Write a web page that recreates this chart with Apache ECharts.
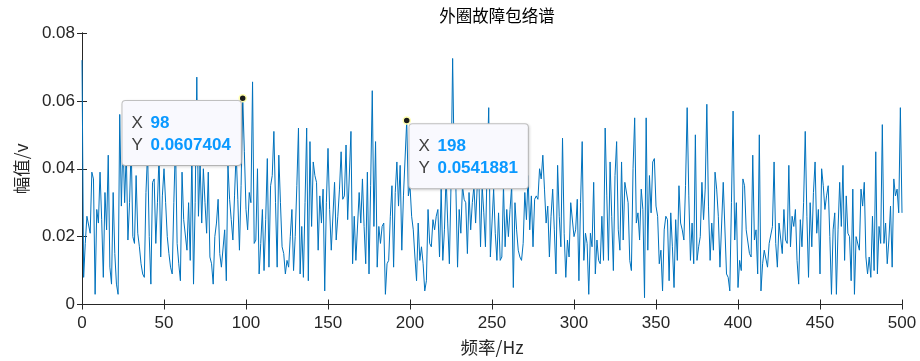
<!DOCTYPE html>
<html>
<head>
<meta charset="utf-8">
<script src="https://cdn.jsdelivr.net/npm/echarts@6/dist/echarts.min.js"></script>
<style>
html,body{margin:0;padding:0;background:#fff;}
#chart{width:920px;height:361px;}
</style>
</head>
<body>
<div id="chart"></div>
<script>
// Envelope spectrum amplitudes, 0..500 Hz at 1 Hz steps
const amplitude = [
0.072,0.008,0.018,0.026,0.026,0.021,0.039,0.037,0.003,0.028,
0.024,0.039,0.025,0.008,0.033,0.022,0.044,0.011,0.006,0.033,
0.015,0.006,0.003,0.056,0.029,0.049,0.030,0.045,0.019,0.030,
0.047,0.020,0.018,0.038,0.021,0.017,0.012,0.009,0.008,0.033,
0.045,0.020,0.006,0.036,0.037,0.018,0.030,0.044,0.014,0.032,
0.040,0.030,0.020,0.015,0.011,0.009,0.030,0.048,0.018,0.012,
0.007,0.039,0.025,0.025,0.016,0.030,0.013,0.045,0.006,0.030,
0.067,0.026,0.042,0.024,0.040,0.030,0.021,0.039,0.014,0.012,
0.006,0.020,0.024,0.031,0.015,0.011,0.011,0.022,0.007,0.041,
0.031,0.025,0.019,0.032,0.045,0.031,0.016,0.035,0.0607404,0.045,
0.028,0.022,0.033,0.030,0.0656,0.018,0.019,0.040,0.009,0.018,
0.028,0.010,0.025,0.043,0.011,0.035,0.038,0.051,0.030,0.011,
0.044,0.030,0.017,0.015,0.009,0.013,0.011,0.020,0.028,0.010,
0.020,0.035,0.052,0.009,0.023,0.008,0.030,0.052,0.007,0.048,
0.023,0.042,0.038,0.036,0.016,0.032,0.024,0.034,0.004,0.030,
0.046,0.028,0.016,0.016,0.036,0.019,0.026,0.034,0.045,0.031,
0.032,0.047,0.025,0.025,0.051,0.012,0.026,0.013,0.013,0.033,
0.024,0.037,0.023,0.012,0.039,0.009,0.035,0.063,0.023,0.048,
0.011,0.023,0.018,0.023,0.024,0.003,0.012,0.013,0.026,0.035,
0.011,0.033,0.042,0.029,0.041,0.016,0.032,0.032,0.0541881,0.032,
0.035,0.026,0.022,0.014,0.007,0.024,0.013,0.017,0.012,0.004,
0.007,0.028,0.018,0.017,0.025,0.022,0.026,0.028,0.014,0.034,
0.013,0.022,0.038,0.024,0.012,0.035,0.0725,0.040,0.034,0.011,
0.028,0.021,0.035,0.031,0.030,0.015,0.033,0.022,0.030,0.035,
0.024,0.035,0.037,0.017,0.035,0.027,0.017,0.040,0.058,0.014,
0.014,0.034,0.021,0.013,0.027,0.013,0.014,0.035,0.017,0.028,
0.020,0.028,0.035,0.005,0.030,0.022,0.016,0.014,0.013,0.018,
0.033,0.025,0.038,0.022,0.032,0.017,0.031,0.032,0.031,0.040,
0.037,0.044,0.034,0.024,0.029,0.014,0.026,0.034,0.022,0.009,
0.041,0.026,0.017,0.049,0.021,0.008,0.019,0.014,0.030,0.030,
0.020,0.022,0.031,0.007,0.030,0.048,0.013,0.021,0.018,0.003,
0.021,0.017,0.036,0.009,0.019,0.013,0.012,0.026,0.013,0.052,
0.032,0.013,0.042,0.026,0.010,0.038,0.048,0.022,0.016,0.042,
0.019,0.036,0.036,0.030,0.013,0.010,0.040,0.055,0.024,0.027,
0.019,0.034,0.028,0.002,0.055,0.016,0.038,0.027,0.042,0.043,
0.029,0.026,0.012,0.016,0.004,0.022,0.026,0.025,0.007,0.027,
0.017,0.005,0.025,0.013,0.035,0.024,0.022,0.019,0.035,0.058,
0.032,0.013,0.024,0.012,0.050,0.013,0.017,0.020,0.036,0.025,
0.034,0.059,0.029,0.013,0.024,0.016,0.039,0.034,0.026,0.011,
0.011,0.036,0.036,0.009,0.008,0.004,0.030,0.057,0.019,0.030,
0.005,0.013,0.010,0.037,0.035,0.022,0.022,0.015,0.014,0.044,
0.019,0.022,0.009,0.050,0.004,0.012,0.016,0.016,0.011,0.018,
0.018,0.023,0.042,0.018,0.011,0.024,0.024,0.015,0.028,0.019,
0.018,0.041,0.017,0.026,0.023,0.028,0.013,0.006,0.025,0.017,
0.030,0.051,0.026,0.008,0.030,0.017,0.033,0.042,0.021,0.028,
0.009,0.040,0.035,0.028,0.032,0.035,0.020,0.003,0.022,0.027,
0.003,0.022,0.036,0.023,0.041,0.013,0.032,0.021,0.020,0.007,
0.034,0.003,0.020,0.020,0.016,0.034,0.029,0.036,0.014,0.009,
0.014,0.008,0.026,0.010,0.045,0.009,0.023,0.018,0.053,0.018,
0.024,0.012,0.019,0.029,0.011,0.037,0.032,0.034,0.027,0.058,
0.027
];
const freqStart = 0;      // Hz
const freqStep = 1;       // Hz
const xTicks = [0,50,100,150,200,250,300,350,400,450,500];
const yTicks = ['0','0.02','0.04','0.06','0.08'];
const tipFreqs = [98, 198];
const tipLabels = ['0.0607404', '0.0541881'];

const seriesData = amplitude.map((v, i) => [freqStart + i * freqStep, v]);

const FONT = '"Liberation Sans", Arial, Helvetica, sans-serif';
const CJK = '"Noto Sans CJK SC", "Liberation Sans", sans-serif';
const TXT = '#262626';

const tipOffsets = [[-116, 7], [7, 8]];
const markData = tipFreqs.map((f, k) => ({
  coord: [f, amplitude[(f - freqStart) / freqStep]],
  label: {
    show: true,
    position: tipOffsets[k],
    formatter: '{k|X}{v|' + f + '}\n{k|Y}{v|' + tipLabels[k] + '}',
    backgroundColor: '#f9f9fe',
    borderColor: '#c4c4c4',
    borderWidth: 1,
    borderRadius: 3,
    padding: [11, 10, 9, 9],
    shadowColor: 'rgba(0,0,0,0.12)',
    shadowBlur: 3,
    shadowOffsetX: 1,
    shadowOffsetY: 1,
    rich: {
      k: {fontFamily: FONT, fontSize: 17, color: '#404040', lineHeight: 22, width: 19},
      v: {fontFamily: FONT, fontSize: 17, color: '#0a99ff', fontWeight: 'bold', lineHeight: 22}
    }
  }
}));

const chart = echarts.init(document.getElementById('chart'), null, {renderer: 'canvas'});
const axisLine = {show: true, lineStyle: {color: TXT, width: 1}};
chart.setOption({
  animation: false,
  backgroundColor: '#ffffff',
  title: {
    text: '外圈故障包络谱',
    left: 492, top: 2, textAlign: 'center',
    textStyle: {fontFamily: CJK, fontSize: 16.5, fontWeight: 'normal', color: '#000'}
  },
  grid: {left: 82, right: 18, top: 33, bottom: 54},
  xAxis: [{
    type: 'value', min: 0, max: 500, interval: 50,
    name: '频率/Hz', nameLocation: 'middle', nameGap: 34,
    nameTextStyle: {fontFamily: CJK, fontSize: 17.5, color: TXT},
    axisLine: axisLine,
    axisTick: {show: true, inside: true, length: 5, lineStyle: {color: TXT}},
    axisLabel: {fontFamily: FONT, fontSize: 17, color: TXT, margin: 10},
    splitLine: {show: false}
  }, {
    type: 'value', min: 0, max: 500, interval: 50, position: 'top',
    axisLine: axisLine,
    axisTick: {show: true, inside: true, length: 5, lineStyle: {color: TXT}},
    axisLabel: {show: false}, splitLine: {show: false}
  }],
  yAxis: [{
    type: 'value', min: 0, max: 0.08, interval: 0.02,
    name: '幅值/v', nameLocation: 'middle', nameGap: 52, nameRotate: 90,
    nameTextStyle: {fontFamily: CJK, fontSize: 17.5, color: TXT},
    axisLine: axisLine,
    axisTick: {show: true, inside: true, length: 5, lineStyle: {color: TXT}},
    axisLabel: {fontFamily: FONT, fontSize: 17, color: TXT, margin: 7,
      formatter: v => { const s = v === 0 ? '0' : v.toFixed(2); return yTicks.indexOf(s) >= 0 ? s : ''; }},
    splitLine: {show: false}
  }, {
    type: 'value', min: 0, max: 0.08, interval: 0.02, position: 'right',
    axisLine: axisLine,
    axisTick: {show: true, inside: true, length: 5, lineStyle: {color: TXT}},
    axisLabel: {show: false}, splitLine: {show: false}
  }],
  series: [{
    type: 'line',
    data: seriesData,
    showSymbol: false,
    symbol: 'none',
    lineStyle: {color: '#0072BD', width: 1},
    markPoint: {
      symbol: 'circle',
      symbolSize: 7,
      itemStyle: {color: '#1a1a1a', borderColor: '#ffffb0', borderWidth: 1.5},
      data: markData
    },
    z: 3
  }]
});
</script>
</body>
</html>
